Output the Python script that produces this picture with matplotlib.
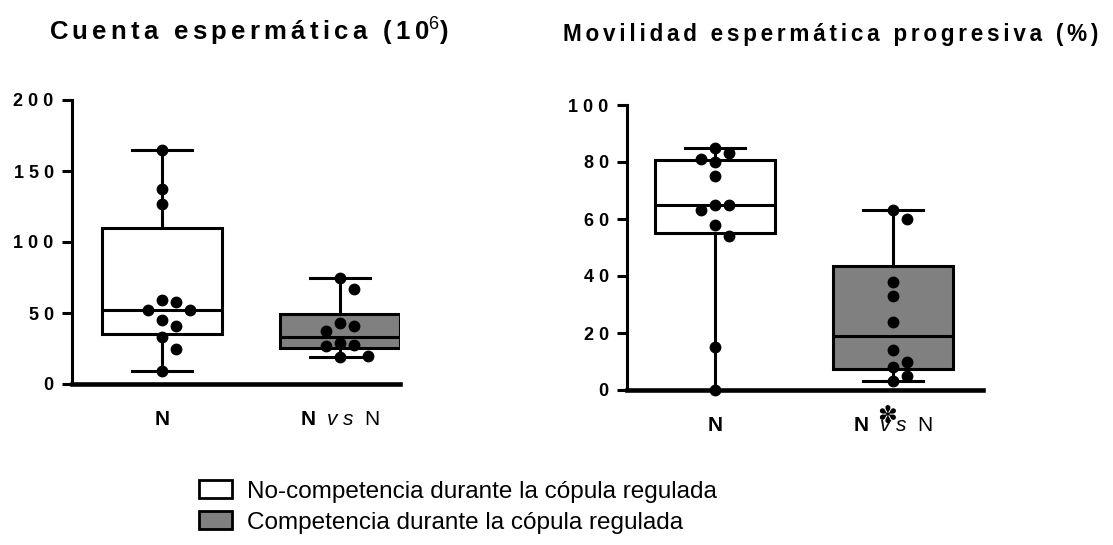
import matplotlib
matplotlib.use('Agg')
import matplotlib.pyplot as plt
import matplotlib.transforms as mtransforms
from matplotlib.patches import Patch
import numpy as np

# datos
cuenta_n = [165, 137, 127, 59, 58, 52, 52, 45, 41, 33, 25, 9.5]
cuenta_nvsn = [75, 67, 43, 41, 37, 29, 27.5, 27, 20, 19]
movil_n = [85, 83, 81, 80, 75, 65, 65, 63, 58, 54, 15, 0]
movil_nvsn = [63, 60, 38, 33, 24, 14, 10, 8, 5, 3]

titulos = ['Cuenta espermática (10$^{6}$)', 'Movilidad espermática progresiva (%)']
etiquetas_x = [r'$\mathbf{N}$', r'$\mathbf{N}$  $\mathit{v\ s}$  $\mathrm{N}$']
leyenda = ['No-competencia durante la cópula regulada',
           'Competencia durante la cópula regulada']
colores = ['white', '#808080']

plt.rcParams['mathtext.fontset'] = 'custom'
plt.rcParams['mathtext.rm'] = 'Liberation Sans'
plt.rcParams['mathtext.it'] = 'Liberation Sans:italic'
plt.rcParams['mathtext.bf'] = 'Liberation Sans:bold'
plt.rcParams['font.family'] = ['Liberation Sans', 'DejaVu Sans']


def espaciar(texto, sep='\u200a\u200a'):
    # separa letras como en el original
    partes = texto.split('$')
    out = []
    for i, p in enumerate(partes):
        if i % 2 == 0:
            out.append(sep.join(p))
        else:
            out.append('$' + p + '$')
    return ''.join(out)


def caja(valores):
    q1, med, q3 = np.percentile(valores, [25, 50, 75], method='weibull')
    return dict(med=med, q1=q1, q3=q3, whislo=min(valores), whishi=max(valores))


def enjambre(ax, x0, valores, d=13.5, paso=7.0):
    pts = ax.transData.transform([(x0, v) for v in valores])
    puestos = []
    xs = []
    for px, py in pts:
        k = 0
        while True:
            cands = [0] if k == 0 else [k * paso, -k * paso]
            ok = None
            for c in cands:
                if all((px + c - qx) ** 2 + (py - qy) ** 2 >= d * d for qx, qy in puestos):
                    ok = c
                    break
            if ok is not None:
                break
            k += 1
        puestos.append((px + ok, py))
        xs.append(ax.transData.inverted().transform((px + ok, py))[0])
    return xs


fig = plt.figure(figsize=(11.13, 5.45), dpi=100)

paneles = [
    ([72 / 1113, 1 - 384 / 545, 328 / 1113, 284 / 545], cuenta_n, cuenta_nvsn, 200, 50, (0.494, 2.337)),
    ([627 / 1113, 1 - 390 / 545, 356 / 1113, 285 / 545], movil_n, movil_nvsn, 100, 20, (0.506, 2.506)),
]

for i, (rect, g1, g2, ymax, paso_y, xl) in enumerate(paneles):
    ax = fig.add_axes(rect)
    ax.set_xlim(*xl)
    ax.set_ylim(0, ymax)
    bp = ax.bxp([caja(g1), caja(g2)], positions=[1, 2], widths=0.67, capwidths=0.335,
                showfliers=False, patch_artist=True,
                boxprops=dict(linewidth=2.2, edgecolor='black'),
                whiskerprops=dict(linewidth=2.2, color='black'),
                capprops=dict(linewidth=2.2, color='black'),
                medianprops=dict(linewidth=2.2, color='black'))
    for b, c in zip(bp['boxes'], colores):
        b.set_facecolor(c)
    for x0, g in [(1, g1), (2, g2)]:
        xs = enjambre(ax, x0, g)
        ax.plot(xs, g, 'o', color='black', markersize=7.5, clip_on=False, zorder=5)

    for s in ['top', 'right']:
        ax.spines[s].set_visible(False)
    ax.spines['left'].set_linewidth(2.2)
    ax.spines['bottom'].set_linewidth(3.3)
    ax.spines['bottom'].set_zorder(6)

    yt = np.arange(0, ymax + 1, paso_y)
    ax.set_yticks(yt)
    ax.set_yticklabels([' '.join(str(int(v))) for v in yt], fontsize=13, fontweight='bold')
    ax.tick_params(axis='y', length=7.2, width=2.2, pad=6)
    ax.set_xticks([1, 2])
    ax.set_xticklabels(etiquetas_x, fontsize=15)
    ax.tick_params(axis='x', length=0, pad=19)

    if i == 1:
        tr = mtransforms.blended_transform_factory(ax.transData, ax.transAxes)
        ax.text(1.966, -0.092, '✽', transform=tr, fontsize=17, family='DejaVu Sans',
                ha='center', va='center', clip_on=False)

# titulos ajustados al ancho del original
renderer = fig.canvas.get_renderer()
for titulo, xc, ancho in [(titulos[0], 249, 400), (titulos[1], 831, 538)]:
    t = fig.text(xc / 1113, 1 - 41 / 545, espaciar(titulo), ha='center', va='baseline',
                 fontsize=20, fontweight='bold')
    w = t.get_window_extent(renderer).width
    t.set_fontsize(20 * ancho / w)

handles = [Patch(facecolor=c, edgecolor='black', linewidth=2) for c in colores]
fig.legend(handles, leyenda, loc='upper left', bbox_to_anchor=(187 / 1113, 1 - 468 / 545),
           frameon=False, fontsize=17.5, handlelength=1.35, handleheight=0.75,
           handletextpad=0.6, labelspacing=0.36, borderpad=0)

fig.savefig('out.png', dpi=100)
